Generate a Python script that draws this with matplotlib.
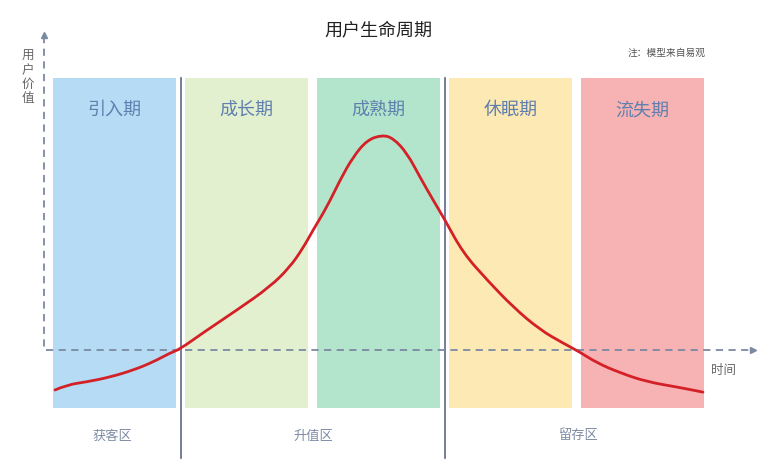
import matplotlib
matplotlib.use("Agg")
import matplotlib.pyplot as plt
from matplotlib.path import Path
from matplotlib.patches import PathPatch

plt.rcParams['font.family'] = ['Noto Sans CJK SC', 'DejaVu Sans']

# stages of the life cycle (one unit of time each)
stages = ['引入期', '成长期', '成熟期', '休眠期', '流失期']
stage_colors = ['#b5dcf4', '#e3f0d0', '#b3e5cc', '#fde9b3', '#f7b2b3']
zones = ['获客区', '升值区', '留存区']
zone_centers = [0.45, 1.97, 3.98]
zone_bounds = [0.966, 2.966]

# user value over time
t = [0.015, 0.106, 0.258, 0.432, 0.606, 0.758, 0.886, 0.962, 1.136, 1.394,
     1.644, 1.795, 1.894, 1.970, 2.076, 2.174, 2.273, 2.379, 2.492, 2.576,
     2.682, 2.780, 2.879, 2.970, 3.106, 3.288, 3.485, 3.689, 3.864, 3.992,
     4.121, 4.295, 4.500, 4.727, 4.924]
value = [-0.93, -0.81, -0.74, -0.63, -0.47, -0.28, -0.07, 0.02, 0.40, 0.93,
         1.47, 1.93, 2.37, 2.79, 3.33, 3.95, 4.49, 4.88, 5.00, 4.93,
         4.58, 4.02, 3.49, 3.02, 2.26, 1.63, 1.00, 0.47, 0.16, -0.05,
         -0.30, -0.53, -0.74, -0.86, -0.98]

fig = plt.figure(figsize=(7.78, 4.70), dpi=100)
ax = fig.add_axes([0, 0, 1, 1])
ax.set_xlim(-53 / 132, 725 / 132)
ax.set_ylim(-120 / 43, 350 / 43)
ax.axis('off')

box_w = 0.932
box_bottom, box_top = -1.35, 6.33
for i, (name, c) in enumerate(zip(stages, stage_colors)):
    ax.bar(i + box_w / 2, box_top - box_bottom, width=box_w, bottom=box_bottom,
           color=c, edgecolor='none', zorder=1)
    ax.text(i + box_w / 2, 5.58, name, ha='center', va='center',
            fontsize=13, color='#5f7fae', zorder=3)

for xb in zone_bounds:
    ax.plot([xb, xb], [box_top, -2.5], color='#5d6a86', lw=1.2, zorder=2)

for name, xc in zip(zones, zone_centers):
    ax.text(xc, -2.0, name, ha='center', va='center', fontsize=9.5,
            color='#7d8ba3')

# dashed axes with arrow heads
axis_col = '#7b89a3'
ax.plot([-0.068, -0.068, 5.29], [7.3, 0, 0], color=axis_col, lw=1.3,
        ls=(0, (4, 3)), zorder=2)
ax.plot(-0.068, 7.33, marker='^', ms=5, color=axis_col, zorder=2)
ax.plot(5.30, 0, marker='>', ms=5, color=axis_col, zorder=2)

# smooth curve: quadratic bezier through the midpoints of the read points
pts = list(zip(t, value))
verts = [pts[0]]
codes = [Path.MOVETO]
for i in range(1, len(pts) - 1):
    mid = ((pts[i][0] + pts[i + 1][0]) / 2, (pts[i][1] + pts[i + 1][1]) / 2)
    verts += [pts[i], mid]
    codes += [Path.CURVE3, Path.CURVE3]
verts.append(pts[-1])
codes.append(Path.LINETO)
ax.add_patch(PathPatch(Path(verts, codes), facecolor='none',
                       edgecolor='#d42027', lw=2, capstyle='round',
                       zorder=4))

ax.text(-0.19, 6.33, '用\n户\n价\n值', ha='center', va='center', fontsize=9,
        color='#666666', linespacing=1.1)
ax.text(5.08, -0.47, '时间', ha='center', va='center', fontsize=9,
        color='#666666')

fig.text(378 / 778, 1 - 30 / 470, '用户生命周期', ha='center', va='center',
         fontsize=13, color='#222222')
fig.text(667 / 778, 1 - 53 / 470, '注：模型来自易观', ha='center', va='center',
         fontsize=7, color='#555555')

fig.savefig('out.png', dpi=100, facecolor='white')
